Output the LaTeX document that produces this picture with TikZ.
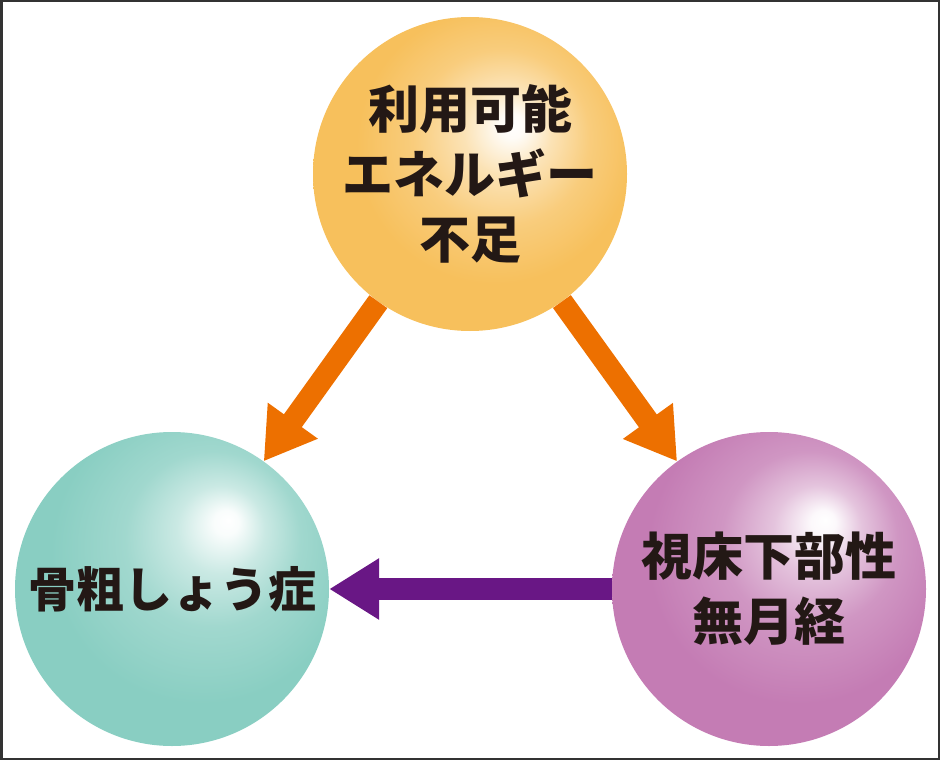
\documentclass[tikz,border=0pt]{standalone}
\usepackage{fontspec}
\usetikzlibrary{arrows.meta}
\newfontfamily\jpfont{Noto Sans CJK JP}

\definecolor{ballorange}{RGB}{247,192,92}
\definecolor{ballteal}{RGB}{137,206,194}
\definecolor{ballpurple}{RGB}{196,124,180}
\definecolor{arroworange}{RGB}{237,112,0}
\definecolor{arrowpurple}{RGB}{105,23,133}
\definecolor{textdark}{RGB}{35,24,21}
\definecolor{framegray}{RGB}{51,51,51}

\pgfdeclareradialshading{orangeshade}{\pgfpoint{7bp}{8bp}}{color(0bp)=(white); color(2bp)=(white!95!ballorange); color(7bp)=(white!55!ballorange); color(14bp)=(white!20!ballorange); color(22bp)=(ballorange); color(50bp)=(ballorange)}
\pgfdeclareradialshading{tealshade}{\pgfpoint{9bp}{11bp}}{color(0bp)=(white); color(2bp)=(white!95!ballteal); color(7bp)=(white!55!ballteal); color(14bp)=(white!20!ballteal); color(24bp)=(ballteal); color(50bp)=(ballteal)}
\pgfdeclareradialshading{purpleshade}{\pgfpoint{9bp}{11bp}}{color(0bp)=(white); color(2bp)=(white!95!ballpurple); color(7bp)=(white!55!ballpurple); color(14bp)=(white!20!ballpurple); color(24bp)=(ballpurple); color(50bp)=(ballpurple)}

\begin{document}
\begin{tikzpicture}[x=1pt, y=-1pt,
    sphere/.style={circle, minimum size=314pt, inner sep=0pt, shade, align=center,
        text=textdark, font=\jpfont\bfseries\fontsize{51}{65}\selectfont},
    bigarrow/.style={line width=22pt, -{Triangle[length=50pt, width=58pt]}}]
    % Frame
    \useasboundingbox (0,0) rectangle (940,760);
    \draw[framegray, line width=2.5pt] (1.25,1.25) rectangle (938.75,758.75);

    % Spheres
    \node[sphere, shading=orangeshade] (energy) at (470,174) {利用可能\\エネルギー\\不足};
    \node[sphere, shading=tealshade, font=\jpfont\bfseries\fontsize{48}{60}\selectfont]
        (bone) at (172,589) {骨粗しょう症};
    \node[sphere, shading=purpleshade] (amenorrhea) at (769,589) {視床下部性\\無月経};

    % Arrows
    \draw[bigarrow, arroworange] (energy) -- (bone);
    \draw[bigarrow, arroworange] (energy) -- (amenorrhea);
    \draw[bigarrow, arrowpurple] (amenorrhea) -- (bone);
\end{tikzpicture}
\end{document}
